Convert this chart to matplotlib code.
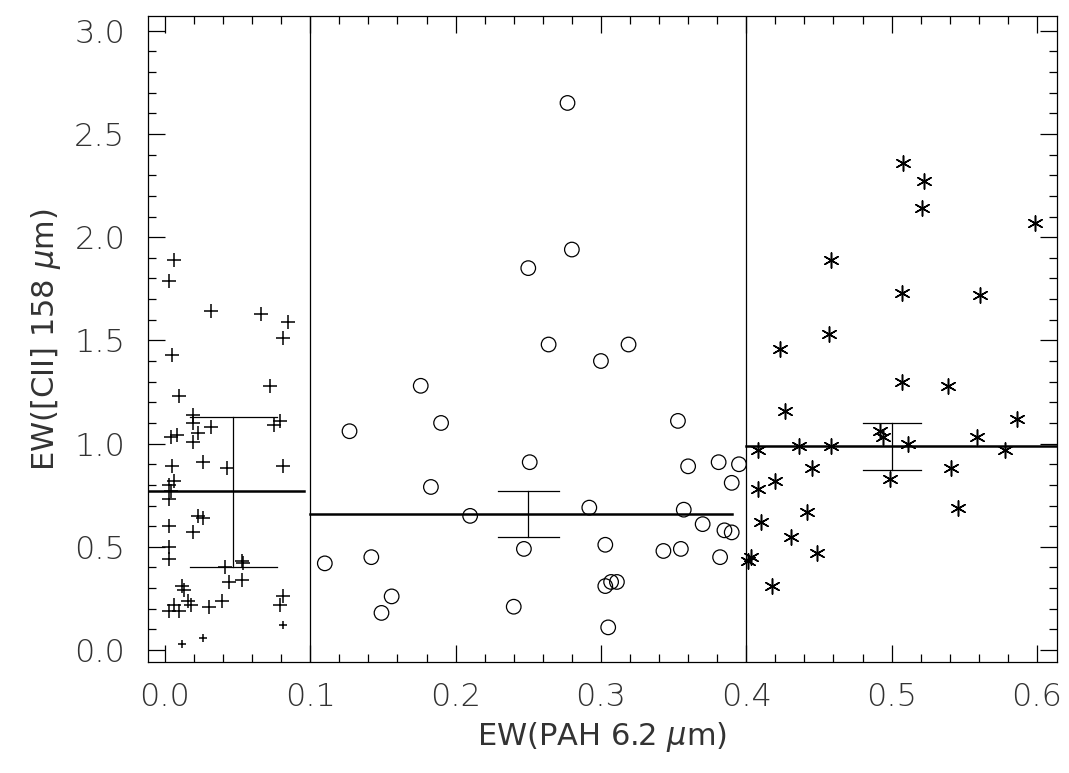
import numpy as np
import matplotlib.pyplot as plt
from matplotlib.ticker import MultipleLocator

# low EW(PAH) group (crosses)
x_lo = [0.006, 0.003, 0.032, 0.066, 0.085, 0.081, 0.005, 0.072, 0.010, 0.019, 0.019,
        0.032, 0.023, 0.004, 0.008, 0.019, 0.079, 0.075, 0.005, 0.026, 0.043, 0.081,
        0.003, 0.006, 0.004, 0.003, 0.023, 0.026, 0.003, 0.019, 0.003, 0.003, 0.041,
        0.053, 0.054, 0.044, 0.053, 0.012, 0.013, 0.006, 0.003, 0.010, 0.016, 0.018,
        0.030, 0.039, 0.081, 0.079]
y_lo = [1.89, 1.79, 1.64, 1.63, 1.59, 1.51, 1.43, 1.28, 1.23, 1.14, 1.10,
        1.08, 1.05, 1.03, 1.04, 1.01, 1.11, 1.09, 0.89, 0.91, 0.88, 0.89,
        0.80, 0.82, 0.77, 0.73, 0.65, 0.64, 0.60, 0.57, 0.50, 0.44, 0.40,
        0.43, 0.42, 0.33, 0.34, 0.31, 0.29, 0.22, 0.19, 0.19, 0.24, 0.22,
        0.21, 0.24, 0.26, 0.22]
x_lo_small = [0.081, 0.012, 0.026]
y_lo_small = [0.12, 0.03, 0.06]

# middle group (circles)
x_mid = [0.110, 0.127, 0.142, 0.149, 0.156, 0.176, 0.183, 0.190, 0.210, 0.240, 0.247,
         0.250, 0.251, 0.264, 0.277, 0.280, 0.292, 0.300, 0.303, 0.303, 0.307, 0.311,
         0.305, 0.319, 0.343, 0.353, 0.355, 0.357, 0.360, 0.370, 0.381, 0.382, 0.385,
         0.390, 0.390, 0.395]
y_mid = [0.42, 1.06, 0.45, 0.18, 0.26, 1.28, 0.79, 1.10, 0.65, 0.21, 0.49,
         1.85, 0.91, 1.48, 2.65, 1.94, 0.69, 1.40, 0.51, 0.31, 0.33, 0.33,
         0.11, 1.48, 0.48, 1.11, 0.49, 0.68, 0.89, 0.61, 0.91, 0.45, 0.58,
         0.81, 0.57, 0.90]

# high group (asterisks)
x_hi = [0.403, 0.401, 0.408, 0.408, 0.410, 0.418, 0.420, 0.423, 0.427, 0.431, 0.436,
        0.442, 0.445, 0.449, 0.457, 0.458, 0.458, 0.492, 0.494, 0.499, 0.507, 0.507,
        0.508, 0.511, 0.522, 0.521, 0.539, 0.541, 0.546, 0.559, 0.561, 0.578, 0.586,
        0.599]
y_hi = [0.45, 0.43, 0.97, 0.78, 0.62, 0.31, 0.82, 1.46, 1.16, 0.55, 0.99,
        0.67, 0.88, 0.47, 1.53, 1.89, 0.99, 1.06, 1.03, 0.83, 1.73, 1.30,
        2.36, 1.00, 2.27, 2.14, 1.28, 0.88, 0.69, 1.03, 1.72, 0.97, 1.12,
        2.07]

# group means: x range, mean, error bar position, low, high, cap half-width
means = [(-0.012, 0.096, 0.77, 0.047, 0.40, 1.13, 0.030),
         (0.100, 0.390, 0.66, 0.250, 0.55, 0.77, 0.021),
         (0.400, 0.614, 0.99, 0.500, 0.87, 1.10, 0.020)]

plt.rcParams['font.family'] = ['DejaVu Sans']
fig, ax = plt.subplots(figsize=(10.69, 7.73), dpi=100)
fig.subplots_adjust(left=0.138, right=0.989, bottom=0.143, top=0.979)

ax.scatter(x_lo, y_lo, marker='+', s=110, c='k', lw=1.1)
ax.scatter(x_lo_small, y_lo_small, marker='+', s=35, c='k', lw=1.1)
ax.scatter(x_mid, y_mid, marker='o', s=110, facecolors='none', edgecolors='k', lw=0.9)
ax.scatter(x_hi, y_hi, marker=(6, 2, 0), s=120, c='k', lw=1.1)

for x0, x1, m, xe, lo, hi, cw in means:
    ax.plot([x0, x1], [m, m], 'k-', lw=1.8)
    ax.plot([xe, xe], [lo, hi], 'k-', lw=0.9)
    ax.plot([xe - cw, xe + cw], [lo, lo], 'k-', lw=0.9)
    ax.plot([xe - cw, xe + cw], [hi, hi], 'k-', lw=0.9)

ax.axvline(0.1, color='k', lw=0.9)
ax.axvline(0.4, color='k', lw=0.9)

ax.set_xlim(-0.012, 0.614)
ax.set_ylim(-0.06, 3.07)
ax.xaxis.set_major_locator(MultipleLocator(0.1))
ax.xaxis.set_minor_locator(MultipleLocator(0.02))
ax.yaxis.set_major_locator(MultipleLocator(0.5))
ax.yaxis.set_minor_locator(MultipleLocator(0.1))
ax.xaxis.set_major_formatter(plt.FormatStrFormatter('%.1f'))
ax.yaxis.set_major_formatter(plt.FormatStrFormatter('%.1f'))
ax.tick_params(which='both', direction='in', top=True, right=True, labelsize=23, width=0.9)
ax.tick_params(which='major', length=12)
ax.tick_params(axis='y', which='major', pad=16)
ax.tick_params(axis='x', which='major', pad=14)
ax.tick_params(which='minor', length=6)
for lab in ax.get_xticklabels() + ax.get_yticklabels():
    lab.set_fontweight('light')
    lab.set_color('#333333')
for s in ax.spines.values():
    s.set_linewidth(0.9)

ax.set_xlabel(r'EW(PAH 6.2 $\mu$m)', fontsize=22, color='#333333', labelpad=6)
ax.set_ylabel(r'EW([CII] 158 $\mu$m)', fontsize=22, color='#333333', labelpad=8)

fig.savefig('out.png', dpi=100)
